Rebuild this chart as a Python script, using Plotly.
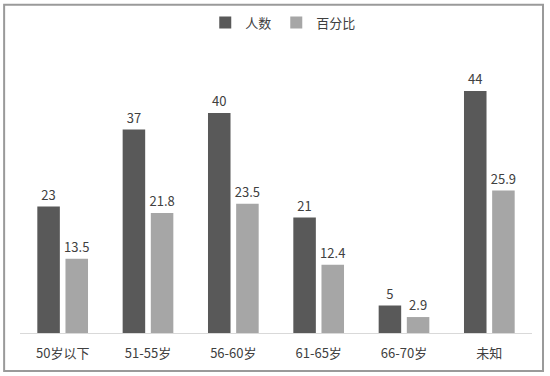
import plotly.graph_objects as go

categories = ["50岁以下", "51-55岁", "56-60岁", "61-65岁", "66-70岁", "未知"]
counts = [23, 37, 40, 21, 5, 44]
percents = [13.5, 21.8, 23.5, 12.4, 2.9, 25.9]
series_names = ["人数", "百分比"]

FONT = "Noto Sans CJK SC, Microsoft YaHei, sans-serif"
TXT = "#404040"

fig = go.Figure()
fig.add_trace(go.Bar(
    x=categories, y=counts, name=series_names[0],
    marker=dict(color="#595959", line=dict(width=0)),
    text=[str(v) for v in counts], textposition="outside", constraintext="none",
    textfont=dict(size=13, color=TXT, family=FONT), cliponaxis=False,
))
fig.add_trace(go.Bar(
    x=categories, y=percents, name=series_names[1],
    marker=dict(color="#a6a6a6", line=dict(width=0)),
    text=[str(v) for v in percents], textposition="outside", constraintext="none",
    textfont=dict(size=13, color=TXT, family=FONT), cliponaxis=False,
))

fig.update_layout(
    width=550, height=376,
    margin=dict(l=20, r=18, t=58, b=43, autoexpand=False),
    paper_bgcolor="white", plot_bgcolor="white",
    font=dict(family=FONT, size=12, color=TXT),
    barmode="group", bargap=0.34, bargroupgap=0.2,
    showlegend=True,
    legend=dict(orientation="h", xref="container", yref="container",
                x=0.515, xanchor="center", y=0.94, yanchor="middle",
                bgcolor="rgba(0,0,0,0)",
                font=dict(size=13, color=TXT), itemwidth=30, traceorder="normal"),
    xaxis=dict(showline=True, linecolor="#d9d9d9", linewidth=1, showgrid=False,
               ticks="", tickfont=dict(size=13, color=TXT), ticklabelstandoff=8),
    yaxis=dict(range=[0, 50], visible=False, showgrid=False, zeroline=False),
)

fig.add_shape(type="rect", xref="paper", yref="paper",
              x0=-0.031, x1=1.0215, y0=-0.138, y1=1.194,
              line=dict(color="#9a9a9a", width=2), fillcolor="rgba(0,0,0,0)", layer="below")

fig.write_html("out.html")
